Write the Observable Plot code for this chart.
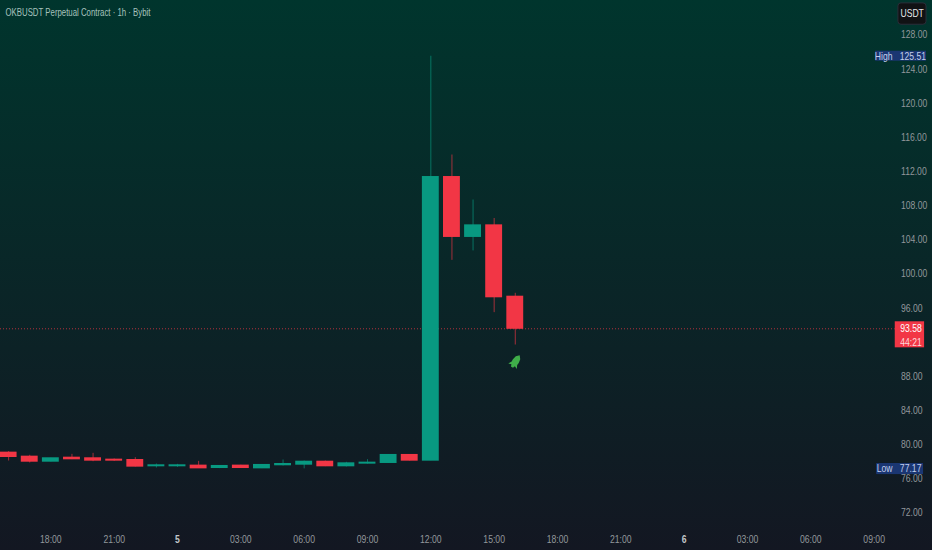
<!DOCTYPE html>
<html><head><meta charset="utf-8">
<script src="https://cdn.jsdelivr.net/npm/d3@7"></script>
<script src="https://cdn.jsdelivr.net/npm/@observablehq/plot@0.6"></script>
<style>
html,body{margin:0;padding:0;width:932px;height:550px;overflow:hidden;background:linear-gradient(180deg,#00352d 0%,#131722 100%);}
svg{display:block}
</style></head><body>
<div id="chart"></div>
<script>
const title = "OKBUSDT Perpetual Contract · 1h · Bybit";
const hours  = [-8,-7,-6,-5,-4,-3,-2,-1,0,1,2,3,4,5,6,7,8,9,10,11,12,13,14,15,16];
const opens  = [79.07,78.60,78.01,78.48,78.41,78.25,78.21,77.47,77.47,77.55,77.27,77.55,77.23,77.59,77.66,78.01,77.47,77.78,77.86,78.80,78.13,111.36,104.34,105.70,97.34];
const closes = [78.56,78.01,78.41,78.29,78.13,78.13,77.43,77.59,77.59,77.23,77.51,77.27,77.63,77.74,78.01,77.47,77.82,77.90,78.80,78.13,111.36,104.34,105.70,97.27,93.58];
const highs  = [79.19,78.76,78.41,78.87,78.99,78.33,78.48,77.74,77.70,78.05,77.55,77.59,77.66,78.21,78.09,78.09,77.94,78.25,78.84,78.84,125.51,113.94,108.67,106.50,97.74];
const lows   = [78.09,77.86,77.98,78.25,78.01,78.05,77.39,77.27,77.35,77.23,77.20,77.23,77.20,77.51,77.17,77.43,77.39,77.74,77.82,78.09,78.13,101.60,102.70,95.47,91.68];
const priceTicks = [128,124,120,116,112,108,104,100,96,88,84,80,76,72];
const hourTicks  = [-6,-3,3,6,9,12,15,18,21,27,30,33];
const hourLabels = ["18:00","21:00","03:00","06:00","09:00","12:00","15:00","18:00","21:00","03:00","06:00","09:00"];
const dayTicks   = [0,24];
const dayLabels  = ["5","6"];
const lastPrice = 93.58, countdown = "44:21";
const highPrice = 125.51, lowPrice = 77.17;
const rocket = [{h:16, p:89.69}];

const candles = hours.map((h,i)=>({h,o:opens[i],c:closes[i],hi:highs[i],lo:lows[i],up:closes[i]>=opens[i]}));
const GREEN="#089981", RED="#f23645", FONT="'Liberation Sans',sans-serif", AXC="#92979b", SIZE=10.5, TAG="#1a3672";

const rocketSymbol = {draw(ctx,size){
  const s=Math.sqrt(size)/4, a=Math.PI/5.5, c=Math.cos(a), d=Math.sin(a);
  const P=(x,y)=>[s*(x*c-y*d), s*(x*d+y*c)];
  const pts=[[0,-8],[2.6,-5],[3.4,-1],[3.2,1.5],[5,5],[2,3.8],[1.2,6],[-1.2,6],[-2,3.8],[-5,5],[-3.2,1.5],[-3.4,-1],[-2.6,-5]].map(p=>P(...p));
  ctx.moveTo(...pts[0]); pts.slice(1).forEach(p=>ctx.lineTo(...p)); ctx.closePath();
}};

const txt=(t,x,y,o={})=>Plot.text([t],{x:()=>x,y:()=>y,fontFamily:FONT,fontSize:SIZE,...o});

const chart = Plot.plot({
  width:932,height:550,
  marginLeft:0,marginTop:0,marginRight:34,marginBottom:20,
  style:{background:"transparent",fontFamily:FONT,fontSize:SIZE+"px"},
  x:{type:"linear",domain:[-8.385,34.154],axis:null},
  y:{type:"linear",domain:[69.95,132.04],axis:null},
  marks:[
    Plot.ruleY([lastPrice],{x1:-8.385,x2:34,stroke:RED,strokeWidth:0.8,strokeDasharray:"1 2",strokeOpacity:.9}),
    Plot.axisY({anchor:"right",ticks:priceTicks,tickSize:0,tickPadding:2.5,tickFormat:d=>d.toFixed(2),label:null,color:AXC,fontFamily:FONT,fontSize:SIZE}),
    Plot.axisX({anchor:"bottom",ticks:hourTicks,tickSize:0,tickPadding:5,tickFormat:d=>hourLabels[hourTicks.indexOf(d)],label:null,color:AXC,fontFamily:FONT,fontSize:SIZE}),
    Plot.axisX({anchor:"bottom",ticks:dayTicks,tickSize:0,tickPadding:5,tickFormat:d=>dayLabels[dayTicks.indexOf(d)],label:null,color:"#c4c7ca",fontWeight:"bold",fontFamily:FONT,fontSize:SIZE}),
    Plot.ruleX(candles,{x:"h",y1:"lo",y2:"hi",stroke:d=>d.up?GREEN:RED,strokeWidth:1,strokeOpacity:.65}),
    Plot.rect(candles,{x1:d=>d.h-0.4,x2:d=>d.h+0.4,y1:"o",y2:"c",fill:d=>d.up?GREEN:RED,insetTop:-0.5,insetBottom:-0.5}),
    Plot.dot(rocket,{x:"h",y:"p",r:2.3,symbol:rocketSymbol,fill:"#3fae49"}),
    // price scale tags
    Plot.rect([0],{x1:33.07,x2:35.48,y1:126.1,y2:124.93,fill:TAG}),
    txt("High",33.87,highPrice,{textAnchor:"end",fill:"#c3cfec"}),
    txt(highPrice.toFixed(2),35.46,highPrice,{textAnchor:"end",fill:"#c3cfec"}),
    Plot.rect([0],{x1:33.12,x2:35.34,y1:77.8,y2:76.5,fill:TAG}),
    txt("Low",33.87,lowPrice,{textAnchor:"end",fill:"#c3cfec"}),
    txt(lowPrice.toFixed(2),35.24,lowPrice,{textAnchor:"end",fill:"#c3cfec"}),
    Plot.rect([0],{x1:34.0,x2:35.39,y1:94.4,y2:91.35,fill:RED}),
    txt(lastPrice.toFixed(2),35.26,lastPrice,{textAnchor:"end",fill:"#ffffff"}),
    txt(countdown,35.26,91.95,{textAnchor:"end",fill:"#ffd9dc"}),
    Plot.rect([0],{x1:34.15,x2:35.48,y1:131.7,y2:129.2,fill:"#111214",stroke:"#2a2e39",rx:3}),
    txt("USDT",34.8,130.45,{textAnchor:"middle",fill:"#e6e8ea"}),
    Plot.text([title],{frameAnchor:"top-left",dx:5,dy:8,textAnchor:"start",fontFamily:FONT,fontSize:11,fill:"#a6c2bd"})
  ]
});
document.getElementById("chart").append(chart);
// The reference uses a condensed face; none is installed, so narrow the real text.
chart.querySelectorAll("text").forEach(t=>{
  const len=t.getComputedTextLength();
  if(!len) return;
  const f=t.textContent===title ? 145/len : 0.82;
  t.setAttribute("textLength",(len*f).toFixed(1));
  t.setAttribute("lengthAdjust","spacingAndGlyphs");
});
</script>
</body></html>
